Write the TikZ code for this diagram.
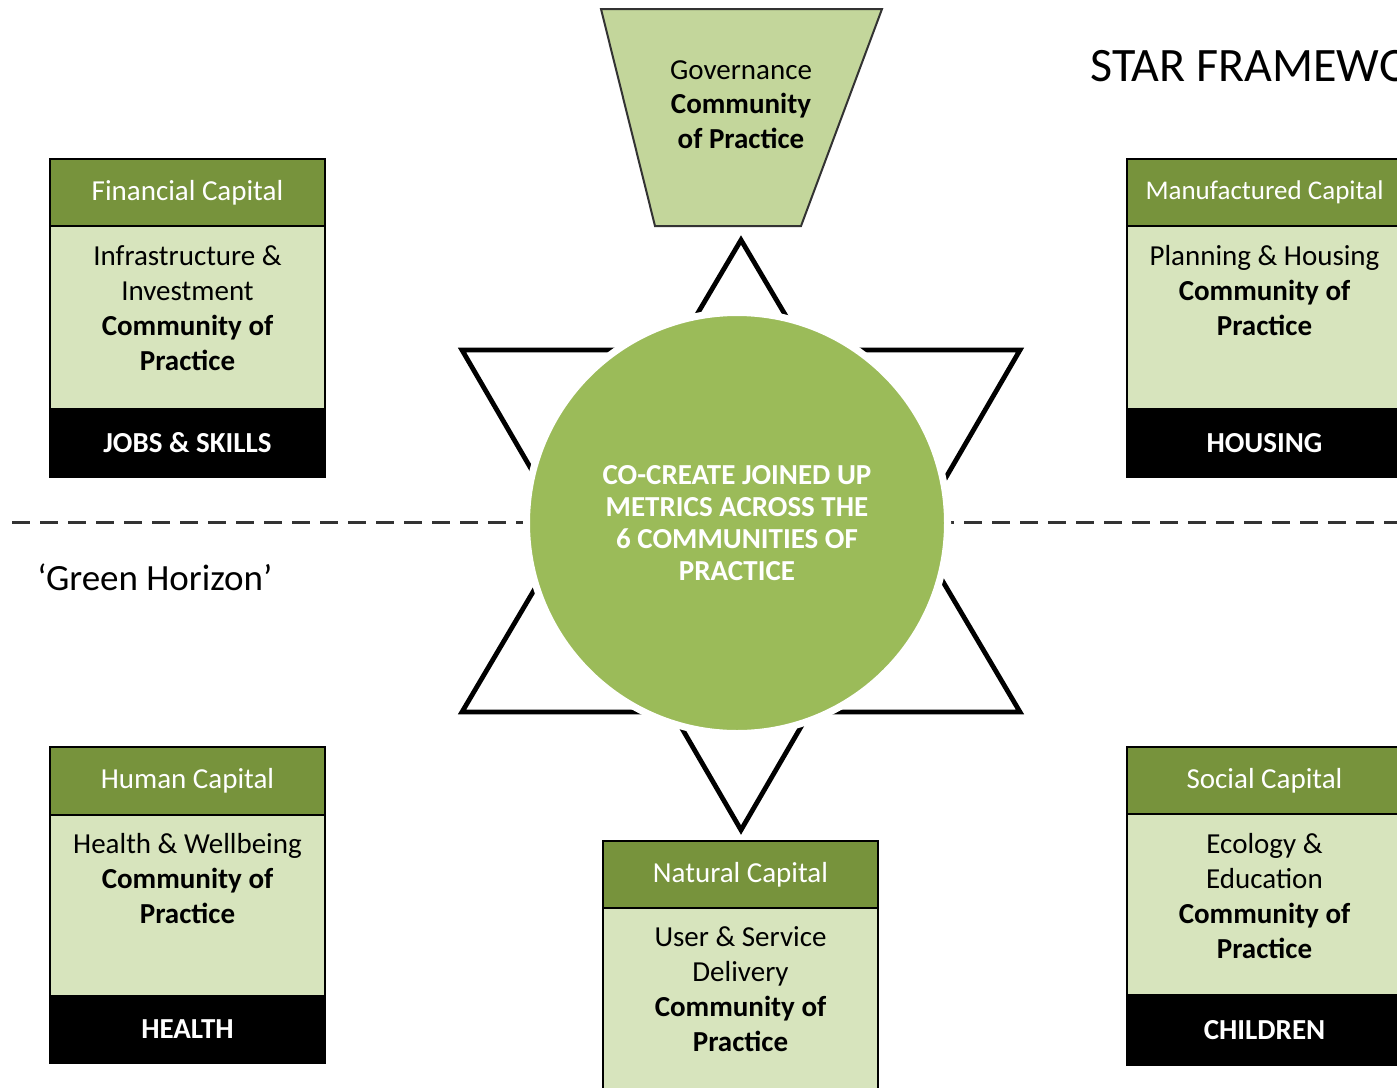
\documentclass[tikz,border=0pt]{standalone}
\usepackage{fontspec}
\setmainfont{Carlito}
\definecolor{hdrgreen}{HTML}{77933C}
\definecolor{bodygreen}{HTML}{D7E4BD}
\definecolor{trapgreen}{HTML}{C3D69B}
\definecolor{coregreen}{HTML}{9BBB59}
\definecolor{linegray}{HTML}{333333}
\tikzset{
  hdrbox/.style={draw=black, line width=1pt, fill=hdrgreen, text=white, minimum width=137.5pt, inner sep=0pt, font=\fontsize{14.5}{17.5}\selectfont},
  bodybox/.style={draw=black, line width=0.8pt, fill=bodygreen, minimum width=137.5pt, inner sep=0pt},
  footbox/.style={draw=black, line width=0.8pt, fill=black, text=white, minimum width=137.5pt, inner sep=0pt, font=\fontsize{14.5}{17.5}\selectfont\bfseries},
  bodytext/.style={anchor=north, align=center, inner sep=0pt, font=\fontsize{14.5}{17.5}\selectfont},
  starline/.style={draw=black, line width=2.4pt, miter limit=10},
  horizon/.style={draw=linegray, line width=1.5pt, dash pattern=on 9pt off 5pt},
}
\begin{document}
\begin{tikzpicture}[x=0.5pt,y=-0.5pt]
\useasboundingbox (0,0) rectangle (1397,1087);
\clip (0,0) rectangle (1397,1087);
\fill[white] (0,0) rectangle (1397,1087);

% horizon line
\coordinate (hl) at (12,522);
\coordinate (hr) at (1397,522);
\draw[horizon] (hl) -- (hr);

% star of two triangles
\draw[starline] (741,240) -- (1020,712) -- (462,712) -- cycle;
\draw[starline] (462,350) -- (1020,350) -- (741,830) -- cycle;

% central circle
\node[circle, fill=coregreen, draw=white, line width=3.5pt, minimum size=210.5pt, inner sep=0pt,
      text=white, align=center, font=\fontsize{14.5}{16}\selectfont\bfseries] (core) at (737,523)
  {CO-CREATE JOINED UP\\METRICS ACROSS THE\\6 COMMUNITIES OF\\PRACTICE};

% governance trapezoid
\filldraw[fill=trapgreen, draw=linegray, line width=1pt] (601,9) -- (882,9) -- (801,226) -- (655,226) -- cycle;
\node[bodytext, font=\fontsize{14.5}{17.25}\selectfont] (gov) at (741,54.5)
  {\strut Governance\\\textbf{Community}\\\textbf{of Practice}};

% title and horizon label
\node[anchor=west, inner sep=0pt, font=\fontsize{24}{28}\selectfont] (title) at (1090,66) {STAR FRAMEWORK};
\node[anchor=west, inner sep=0pt, font=\fontsize{18.5}{22}\selectfont] (green) at (37,577) {‘Green Horizon’};

% Financial capital
\node[bodybox, minimum height=91.5pt] (fin-b) at (187.5,317.5) {};
\node[hdrbox, minimum height=33.5pt] (fin-h) at (187.5,192.5) {Financial Capital};
\node[footbox, minimum height=34pt] (fin-f) at (187.5,443) {JOBS \& SKILLS};
\node[bodytext] (fin-t) at (187.5,240.5)
  {\strut Infrastructure \&\\Investment\\\textbf{Community of}\\\textbf{Practice}};

% Manufactured capital
\node[bodybox, minimum height=91.5pt] (man-b) at (1264.5,317.5) {};
\node[hdrbox, minimum height=33.5pt, font=\fontsize{13.5}{16}\selectfont] (man-h) at (1264.5,192.5) {Manufactured Capital};
\node[footbox, minimum height=34pt] (man-f) at (1264.5,443) {HOUSING};
\node[bodytext] (man-t) at (1264.5,240.5)
  {\strut Planning \& Housing\\\textbf{Community of}\\\textbf{Practice}};

% Human capital
\node[bodybox, minimum height=90.5pt] (hum-b) at (187.5,906) {};
\node[hdrbox, minimum height=34pt] (hum-h) at (187.5,781) {Human Capital};
\node[footbox, minimum height=33.5pt] (hum-f) at (187.5,1029.5) {HEALTH};
\node[bodytext] (hum-t) at (187.5,828.5)
  {\strut Health \& Wellbeing\\\textbf{Community of}\\\textbf{Practice}};

% Social capital
\node[bodybox, minimum height=90.5pt] (soc-b) at (1264.5,905) {};
\node[hdrbox, minimum height=33.5pt] (soc-h) at (1264.5,780.5) {Social Capital};
\node[footbox, minimum height=35pt] (soc-f) at (1264.5,1030) {CHILDREN};
\node[bodytext] (soc-t) at (1264.5,828.5)
  {\strut Ecology \&\\Education\\\textbf{Community of}\\\textbf{Practice}};

% Natural capital
\node[bodybox, minimum height=95pt] (nat-b) at (740.5,1003) {};
\node[hdrbox, minimum height=33.5pt] (nat-h) at (740.5,874.5) {Natural Capital};
\node[bodytext] (nat-t) at (740.5,921.5)
  {\strut User \& Service\\Delivery\\\textbf{Community of}\\\textbf{Practice}};
\end{tikzpicture}
\end{document}
